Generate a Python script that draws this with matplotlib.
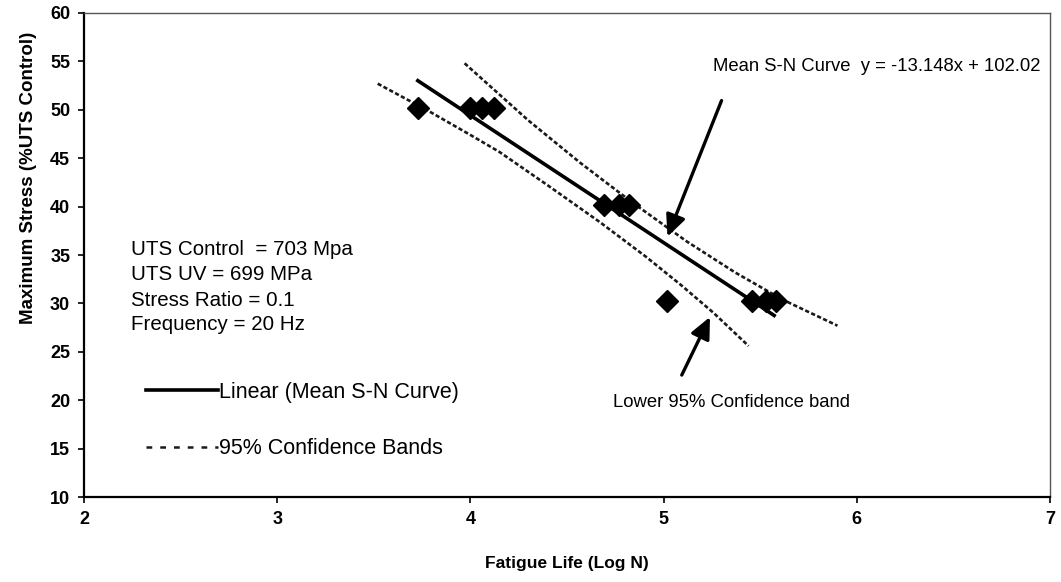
import matplotlib
matplotlib.use("Agg")
import matplotlib.pyplot as plt
from matplotlib.lines import Line2D

plt.rcParams['font.family'] = ['Liberation Sans', 'DejaVu Sans']

# Fatigue test results: log10 cycles to failure vs. max stress (% of control UTS)
log_n = [3.73, 4.00, 4.06, 4.12, 4.69, 4.77, 4.82, 5.02, 5.46, 5.53, 5.58]
max_stress = [50.2, 50.2, 50.2, 50.2, 40.2, 40.2, 40.2, 30.2, 30.2, 30.2, 30.2]

# Mean S-N regression line y = slope * x + intercept
slope = -13.148
intercept = 102.02
fit_x = [3.72, 5.58]

# 95% confidence bands
upper_x = [3.97, 4.30, 4.57, 4.84, 5.12, 5.37, 5.62, 5.90]
upper_y = [54.8, 48.9, 44.5, 40.4, 36.4, 33.2, 30.35, 27.7]
lower_x = [3.52, 3.79, 4.00, 4.15, 4.40, 4.67, 4.91, 5.09, 5.26, 5.44]
lower_y = [52.7, 49.8, 47.4, 45.65, 42.2, 38.4, 34.8, 31.9, 29.0, 25.6]

test_notes = ["UTS Control  = 703 Mpa", "UTS UV = 699 MPa",
              "Stress Ratio = 0.1", "Frequency = 20 Hz"]

fig = plt.figure(figsize=(10.61, 5.82), dpi=100)
ax = fig.add_axes([0.0792, 0.146, 0.9104, 0.8317])

fit_y = [slope * x + intercept for x in fit_x]
band_style = dict(color='#1a1a1a', lw=1.9, linestyle=(0, (1.6, 0.9)))
ax.plot(upper_x, upper_y, **band_style)
ax.plot(lower_x, lower_y, **band_style)
ax.plot(fit_x, fit_y, color='black', lw=2.6, solid_capstyle='butt')
ax.plot(log_n, max_stress, linestyle='none', marker='D', markersize=11,
        color='black')

ax.set_xlim(2, 7)
ax.set_ylim(10, 60)
ax.set_xticks(range(2, 8))
ax.set_yticks(range(10, 61, 5))
ax.tick_params(axis='both', direction='out', length=4, width=1.2,
               labelsize=13, pad=6)
for lab in ax.get_xticklabels() + ax.get_yticklabels():
    lab.set_fontweight('bold')

for side in ('left', 'bottom'):
    ax.spines[side].set_linewidth(1.6)
    ax.spines[side].set_color('black')
for side in ('top', 'right'):
    ax.spines[side].set_linewidth(1.0)
    ax.spines[side].set_color('#555555')

ax.set_xlabel('Fatigue Life (Log N)', fontsize=12.5, fontweight='bold',
              labelpad=20)
ax.set_ylabel('Maximum Stress (%UTS Control)', fontsize=13.5,
              fontweight='bold')
ax.yaxis.set_label_coords(-0.049, 0.659)

# Test conditions
note_y = [35.55, 33.0, 30.35, 27.85]
for txt, y in zip(test_notes, note_y):
    ax.text(2.243, y, txt, fontsize=14.8, va='center', ha='left')

# Legend for the fit and the bands
handles = [Line2D([], [], color='black', lw=2.6),
           Line2D([], [], color='#1a1a1a', lw=1.8, linestyle=(0, (2.3, 3.2)))]
ax.legend(handles, ['Linear (Mean S-N Curve)', '95% Confidence Bands'],
          loc='upper left', bbox_to_anchor=(0.064, 0.238), frameon=False,
          fontsize=15.5, handlelength=3.35, handletextpad=0.05,
          labelspacing=1.65, borderpad=0, borderaxespad=0)

# Callouts
ax.annotate('', xy=(5.02, 36.9), xytext=(5.30, 50.95),
            arrowprops=dict(arrowstyle='-|>,head_length=1.3,head_width=0.6',
                            color='black', lw=2.4, shrinkA=0, shrinkB=0))
ax.text(5.256, 54.45, 'Mean S-N Curve  y = -13.148x + 102.02', fontsize=13.3,
        va='center', ha='left')

ax.annotate('', xy=(5.24, 28.6), xytext=(5.094, 22.6),
            arrowprops=dict(arrowstyle='-|>,head_length=1.3,head_width=0.6',
                            color='black', lw=2.4, shrinkA=0, shrinkB=0))
ax.text(4.738, 19.8, 'Lower 95% Confidence band', fontsize=13.3,
        va='center', ha='left')

fig.savefig('out.png', dpi=100)
